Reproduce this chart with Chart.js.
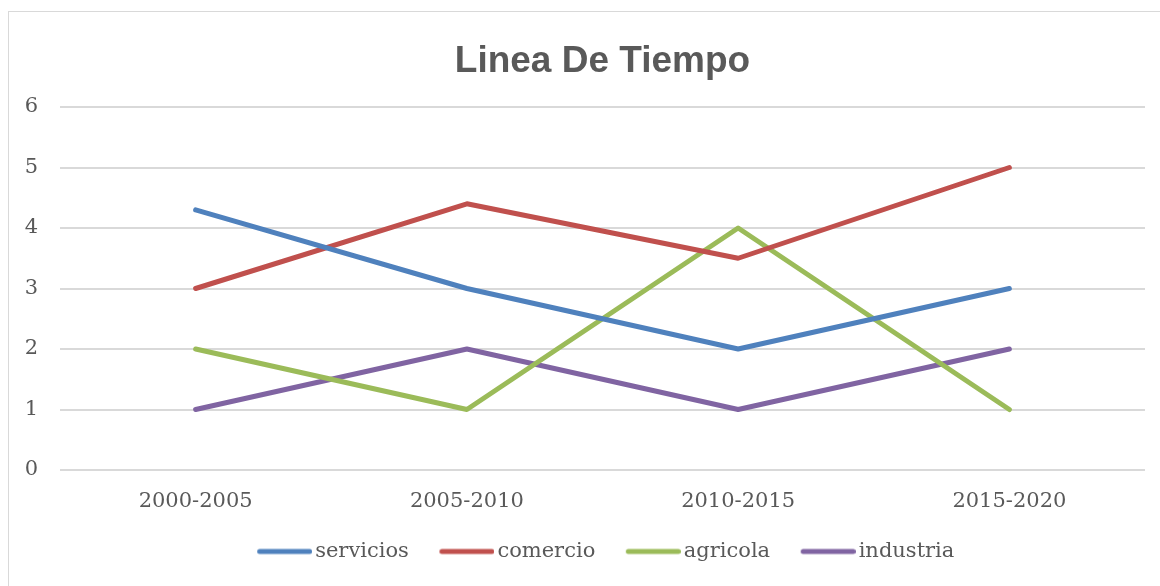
<!DOCTYPE html>
<html>
<head>
<meta charset="utf-8">
<script src="https://cdn.jsdelivr.net/npm/chart.js@4/dist/chart.umd.min.js"></script>
<style>
  html, body { margin: 0; padding: 0; background: #ffffff; overflow: hidden; }
  #box { position: absolute; left: 8px; top: 11px; width: 1170px; height: 600px; border: 1px solid #d9d9d9; background: #fff; }
  canvas { display: block; }
</style>
</head>
<body>
<div id="box"><canvas id="c" width="1151" height="560"></canvas></div>
<script>
const categories = ['2000-2005', '2005-2010', '2010-2015', '2015-2020'];
const servicios = [4.3, 3, 2, 3];
const comercio = [3, 4.4, 3.5, 5];
const agricola = [2, 1, 4, 1];
const industria = [1, 2, 1, 2];
const yTicks = [0, 1, 2, 3, 4, 5, 6];

const colors = { servicios: '#4F81BD', comercio: '#C0504D', agricola: '#9BBB59', industria: '#8064A2' };
const textColor = '#595959';
const serif = '"DejaVu Serif", serif';

// legend marker: a short thick line, drawn on the right part of a small canvas
function legendLine(color) {
  const c = document.createElement('canvas');
  c.width = 69; c.height = 8;
  const g = c.getContext('2d');
  g.strokeStyle = color; g.lineWidth = 5; g.lineCap = 'round';
  g.beginPath(); g.moveTo(69 - 55 + 2.5, 4); g.lineTo(69 - 2.5, 4); g.stroke();
  return c;
}

function ds(label, data, color) {
  return {
    label, data,
    borderColor: color, backgroundColor: color,
    borderWidth: 5, borderCapStyle: 'round', borderJoinStyle: 'round',
    pointRadius: 0, pointHoverRadius: 0, pointStyle: legendLine(color),
    tension: 0, fill: false
  };
}

new Chart(document.getElementById('c'), {
  type: 'line',
  data: {
    labels: categories,
    datasets: [
      ds('servicios', servicios, colors.servicios),
      ds('comercio', comercio, colors.comercio),
      ds('agricola', agricola, colors.agricola),
      ds('industria', industria, colors.industria)
    ]
  },
  options: {
    responsive: false,
    animation: false,
    layout: { padding: { top: 12, right: 15, bottom: 0, left: 0 } },
    plugins: {
      tooltip: { enabled: false },
      title: {
        display: true,
        fullSize: false,
        text: 'Linea De Tiempo',
        color: textColor,
        font: { family: '"Liberation Sans", Arial, sans-serif', size: 37, weight: 'bold' },
        padding: { top: 16, bottom: 22.6 }
      },
      legend: {
        position: 'bottom',
        fullSize: false,
        labels: {
          usePointStyle: true,
          pointStyleWidth: 54,
          color: textColor,
          font: { family: serif, size: 21 },
          padding: 24
        }
      }
    },
    scales: {
      x: {
        offset: true,
        grid: { display: false, drawTicks: false },
        border: { display: false },
        ticks: { color: textColor, font: { family: serif, size: 21 }, padding: 19 },
        afterFit(scale) { scale.height = 47; }
      },
      y: {
        min: 0, max: 6,
        afterBuildTicks(scale) { scale.ticks = yTicks.map(v => ({ value: v })); },
        grid: { color: '#d9d9d9', lineWidth: 2, drawTicks: false },
        border: { display: false },
        ticks: { color: textColor, font: { family: serif, size: 21 }, padding: 22 },
        afterFit(scale) { scale.width = 51; }
      }
    }
  }
});
</script>
</body>
</html>
